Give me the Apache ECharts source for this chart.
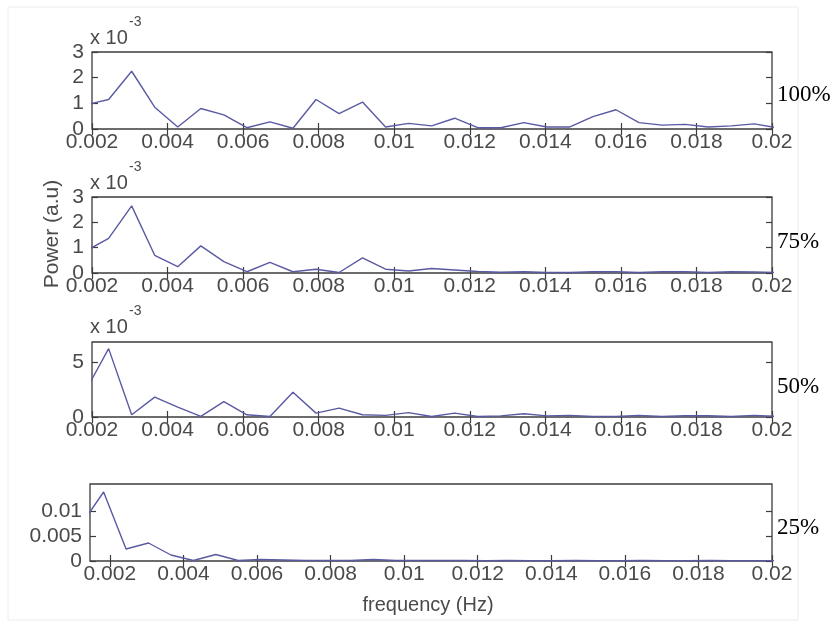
<!DOCTYPE html>
<html>
<head>
<meta charset="utf-8">
<script src="https://cdn.jsdelivr.net/npm/echarts@6/dist/echarts.min.js"></script>
<style>
  html, body { margin: 0; background: #fff; }
  #chart { width: 834px; height: 622px; }
</style>
</head>
<body>
<div id="chart"></div>
<script>
// frequency bins (Hz)
const freq = [0.00122, 0.00183, 0.00244, 0.00305, 0.00366, 0.00427, 0.00488, 0.00549,
  0.0061, 0.00671, 0.00732, 0.00793, 0.00854, 0.00916, 0.00977, 0.01038,
  0.01099, 0.0116, 0.01221, 0.01282, 0.01343, 0.01404, 0.01465, 0.01526,
  0.01587, 0.01648, 0.01709, 0.0177, 0.01831, 0.01892, 0.01953, 0.02014];

// power, x 10^-3
const power100 = [null, 0.94, 1.15, 2.25, 0.85, 0.08, 0.8, 0.55, 0.05, 0.28, 0.03, 1.15, 0.6, 1.05, 0.08, 0.22,
  0.12, 0.42, 0.05, 0.05, 0.25, 0.08, 0.08, 0.48, 0.75, 0.25, 0.15, 0.18, 0.08, 0.12, 0.2, 0.05];
const power75 = [null, 0.86, 1.37, 2.65, 0.7, 0.25, 1.07, 0.45, 0.05, 0.42, 0.05, 0.15, 0.02, 0.6, 0.15, 0.08,
  0.18, 0.12, 0.06, 0.03, 0.05, 0.02, 0.02, 0.05, 0.05, 0.02, 0.05, 0.05, 0.02, 0.05, 0.04, 0.02];
const power50 = [null, 2.38, 6.2, 0.2, 1.8, 0.9, 0.05, 1.4, 0.2, 0.05, 2.25, 0.35, 0.8, 0.2, 0.15, 0.4,
  0.05, 0.35, 0.05, 0.1, 0.3, 0.1, 0.15, 0.05, 0.05, 0.15, 0.05, 0.12, 0.12, 0.05, 0.15, 0.05];
// power, absolute
const power25 = [0.0073, 0.0138, 0.0024, 0.0036, 0.0012, 0.0001, 0.0013, 0.0001, 0.0003, 0.0002, 0.0001, 0.0001,
  0.0001, 0.0003, 0.0001, 0.0001, 0.0001, 0.0001, 0.00005, 0.0001, 0.00005, 0.00005, 0.0001, 0.00005,
  0.00005, 0.0001, 0.00005, 0.00005, 0.0001, 0.00005, 0.00005, 0.00005];

const xTicks = [0.002, 0.004, 0.006, 0.008, 0.01, 0.012, 0.014, 0.016, 0.018, 0.02];
const yTicks100 = [0, 1, 2, 3];
const yTicks75 = [0, 1, 2, 3];
const yTicks50 = [0, 5];
const yTicks25 = [0, 0.005, 0.01];
const levels = ['100%', '75%', '50%', '25%'];

const lineColor = '#5a5aa3';
const textColor = '#4a4a4a';
const sansFont = 'Liberation Sans';

const panels = [
  { data: power100, yTicks: yTicks100, yMax: 3, xMin: 0.002, grid: { left: 92, width: 680, top: 52, height: 77 }, label: levels[0], labelY: 95, scaleY: 38 },
  { data: power75, yTicks: yTicks75, yMax: 3, xMin: 0.002, grid: { left: 92, width: 680, top: 197, height: 76 }, label: levels[1], labelY: 242, scaleY: 183 },
  { data: power50, yTicks: yTicks50, yMax: 6.8, xMin: 0.002, grid: { left: 92, width: 680, top: 342, height: 75 }, label: levels[2], labelY: 387, scaleY: 327 },
  { data: power25, yTicks: yTicks25, yMax: 0.0154, xMin: 0.00146, grid: { left: 90, width: 682, top: 484, height: 77 }, label: levels[3], labelY: 528, scaleY: null }
];

const grids = [];
const xAxes = [];
const yAxes = [];
const series = [];
const graphics = [
  { type: 'rect', shape: { x: 8, y: 7, width: 790, height: 613 }, style: { fill: 'none', stroke: '#ececec', lineWidth: 1 }, z: 0 }
];

panels.forEach((p, i) => {
  grids.push(Object.assign({ show: true, borderColor: '#3c3c3c', borderWidth: 1.3 }, p.grid));

  const tickStyle = { show: true, inside: true, length: 6, lineStyle: { color: '#3c3c3c', width: 1.2 } };

  // bottom x axis with labels
  xAxes.push({
    type: 'value', gridIndex: i, min: p.xMin, max: 0.02, position: 'bottom',
    splitLine: { show: false }, axisLine: { show: false },
    axisTick: Object.assign({ customValues: xTicks }, tickStyle),
    axisLabel: { customValues: xTicks, margin: 3, color: textColor, fontFamily: sansFont, fontSize: 21 }
  });
  // top x axis, ticks only
  xAxes.push({
    type: 'value', gridIndex: i, min: p.xMin, max: 0.02, position: 'top',
    splitLine: { show: false }, axisLine: { show: false },
    axisTick: Object.assign({ customValues: xTicks }, tickStyle),
    axisLabel: { show: false }
  });
  // left y axis with labels
  yAxes.push({
    type: 'value', gridIndex: i, min: 0, max: p.yMax, position: 'left',
    splitLine: { show: false }, axisLine: { show: false },
    axisTick: Object.assign({ customValues: p.yTicks }, tickStyle),
    axisLabel: { customValues: p.yTicks, margin: 8, color: textColor, fontFamily: sansFont, fontSize: 21 }
  });
  // right y axis, ticks only
  yAxes.push({
    type: 'value', gridIndex: i, min: 0, max: p.yMax, position: 'right',
    splitLine: { show: false }, axisLine: { show: false },
    axisTick: Object.assign({ customValues: p.yTicks }, tickStyle),
    axisLabel: { show: false }
  });

  series.push({
    type: 'line',
    xAxisIndex: i * 2,
    yAxisIndex: i * 2,
    data: freq.map((f, k) => [f, p.data[k]]),
    symbol: 'none',
    clip: true,
    lineStyle: { color: lineColor, width: 1.4 },
    silent: true
  });

  graphics.push({
    type: 'text', x: 777, y: p.labelY,
    style: { text: p.label, font: '23px "Liberation Serif"', fill: '#000', verticalAlign: 'middle' }
  });

  if (p.scaleY !== null) {
    graphics.push({
      type: 'text', x: 90, y: p.scaleY,
      style: { text: 'x 10', font: '20px "Liberation Sans"', fill: textColor, verticalAlign: 'middle' }
    });
    graphics.push({
      type: 'text', x: 129, y: p.scaleY - 16,
      style: { text: '-3', font: '14px "Liberation Sans"', fill: textColor, verticalAlign: 'middle' }
    });
  }
});

graphics.push({
  type: 'text', x: 52, y: 234, rotation: Math.PI / 2,
  style: { text: 'Power (a.u)', font: '21px "Liberation Sans"', fill: textColor, align: 'center', verticalAlign: 'middle' }
});
graphics.push({
  type: 'text', x: 428, y: 605,
  style: { text: 'frequency (Hz)', font: '20px "Liberation Sans"', fill: textColor, align: 'center', verticalAlign: 'middle' }
});

const chart = echarts.init(document.getElementById('chart'), null, { renderer: 'canvas' });
chart.setOption({
  animation: false,
  backgroundColor: '#fff',
  grid: grids,
  xAxis: xAxes,
  yAxis: yAxes,
  series: series,
  graphic: graphics
});
</script>
</body>
</html>
